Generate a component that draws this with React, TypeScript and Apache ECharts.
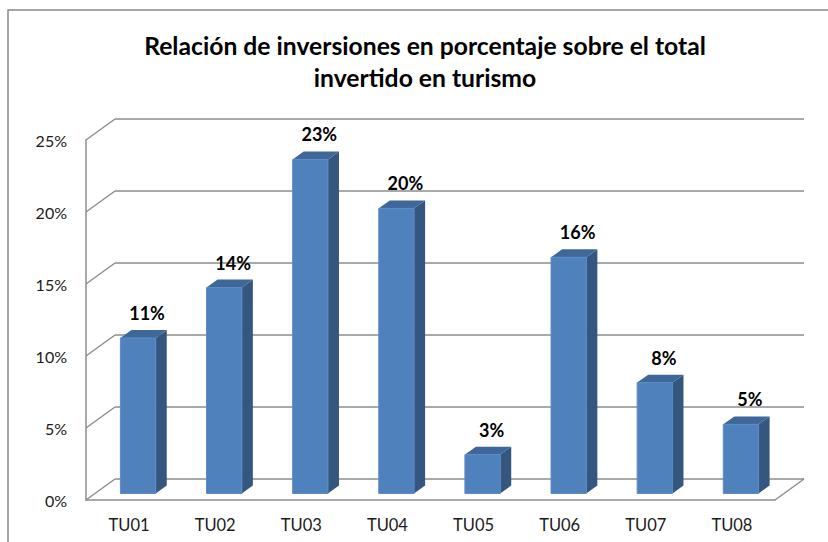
import React, { useEffect, useRef } from "react";
import * as echarts from "echarts";

const categories = ["TU01", "TU02", "TU03", "TU04", "TU05", "TU06", "TU07", "TU08"];
const shares = [10.8, 14.3, 23.2, 19.8, 2.7, 16.4, 7.7, 4.8];
const yTicks = [0, 5, 10, 15, 20, 25];
const titleLines = ["Relación de inversiones en porcentaje sobre el total", "invertido en turismo"];

const FONT = "Lato";
const DEPTH_X = 29;
const DEPTH_Y = -21;
const BAR_F0 = 0.31;
const BAR_F1 = 0.69;
const GRID_COLOR = "#8C8C8C";

export default function App() {
  const ref = useRef<HTMLDivElement>(null);
  useEffect(() => {
    const chart = echarts.init(ref.current!, null, { renderer: "svg" });
    const gridFront = { left: 86, right: 53, top: 140, bottom: 42 };
    const gridBack = {
      left: 86 + DEPTH_X,
      right: 53 - DEPTH_X,
      top: 140 + DEPTH_Y,
      bottom: 42 - DEPTH_Y,
    };
    chart.setOption({
      animation: false,
      backgroundColor: "#fff",
      title: {
        text: titleLines.join("\n"),
        left: 420,
        top: 24,
        textAlign: "center",
        textStyle: {
          fontFamily: FONT,
          fontWeight: "bold",
          fontSize: 24.7,
          lineHeight: 32,
          color: "#000",
        },
      },
      graphic: [
        {
          type: "rect",
          shape: { x: 8, y: 10, width: 840, height: 560 },
          style: { fill: "none", stroke: "#888", lineWidth: 1.5 },
          z: 0,
        },
      ],
      grid: [{ ...gridFront }, { ...gridBack }],
      xAxis: [
        {
          type: "category",
          gridIndex: 0,
          data: categories,
          axisLine: { show: true, lineStyle: { color: GRID_COLOR, width: 1.5 } },
          axisTick: { show: false },
          axisLabel: { fontFamily: FONT, fontSize: 16.5, color: "#1a1a1a", margin: 16 },
          splitLine: { show: false },
        },
        {
          type: "category",
          gridIndex: 1,
          data: categories,
          show: false,
        },
      ],
      yAxis: [
        {
          type: "value",
          gridIndex: 0,
          min: 0,
          max: 25,
          interval: 5,
          axisLine: { show: true, lineStyle: { color: GRID_COLOR, width: 1.5 } },
          axisTick: { show: false },
          splitLine: { show: false },
          axisLabel: {
            fontFamily: FONT,
            fontSize: 16,
            color: "#1a1a1a",
            margin: 19,
            formatter: (v: number) => v + "%",
          },
        },
        {
          type: "value",
          gridIndex: 1,
          min: 0,
          max: 25,
          interval: 5,
          axisLine: { show: false },
          axisTick: { show: false },
          axisLabel: { show: false },
          splitLine: { show: true, lineStyle: { color: GRID_COLOR, width: 1.5 } },
        },
      ],
      series: [
        {
          type: "custom",
          name: "wall",
          xAxisIndex: 0,
          yAxisIndex: 0,
          data: yTicks.map((v) => [0, v]),
          silent: true,
          z: 1,
          renderItem: (params: any, api: any) => {
            const v = api.value(1);
            const cs = params.coordSys;
            const y = api.coord([0, v])[1];
            const children: any[] = [
              {
                type: "line",
                shape: { x1: cs.x, y1: y, x2: cs.x + DEPTH_X, y2: y + DEPTH_Y },
                style: { stroke: GRID_COLOR, lineWidth: 1.5 },
              },
            ];
            if (v === 0) {
              const xr = cs.x + cs.width;
              children.push({
                type: "line",
                shape: { x1: xr, y1: y, x2: xr + DEPTH_X, y2: y + DEPTH_Y },
                style: { stroke: GRID_COLOR, lineWidth: 1.5 },
              });
            }
            return { type: "group", children };
          },
        },
        {
          type: "custom",
          name: "Inversión",
          xAxisIndex: 0,
          yAxisIndex: 0,
          data: shares.map((v, i) => [i, v]),
          z: 5,
          renderItem: (params: any, api: any) => {
            const idx = api.value(0);
            const v = api.value(1);
            const base = api.coord([idx, 0]);
            const top = api.coord([idx, v]);
            const band = api.size([1, 0])[0];
            const w = band * 0.41;
            const ox = DEPTH_X * BAR_F0;
            const oy = DEPTH_Y * BAR_F0;
            const dx = DEPTH_X * (BAR_F1 - BAR_F0);
            const dy = DEPTH_Y * (BAR_F1 - BAR_F0);
            const xl = base[0] + ox - w / 2;
            const xr = xl + w;
            const yb = base[1] + oy;
            const yt = top[1] + oy;
            return {
              type: "group",
              children: [
                {
                  type: "polygon",
                  shape: { points: [[xr, yt], [xr + dx, yt + dy], [xr + dx, yb + dy], [xr, yb]] },
                  style: { fill: "#34567F" },
                },
                {
                  type: "polygon",
                  shape: { points: [[xl, yt], [xl + dx, yt + dy], [xr + dx, yt + dy], [xr, yt]] },
                  style: { fill: "#3F679A" },
                },
                {
                  type: "rect",
                  shape: { x: xl, y: yt, width: w, height: yb - yt },
                  style: { fill: "#4F81BD", stroke: "#5C8CC6", lineWidth: 1 },
                },
                {
                  type: "text",
                  x: (xl + xr) / 2 + 9,
                  y: yt - 25,
                  style: {
                    text: Math.round(v) + "%",
                    fontFamily: FONT,
                    fontWeight: "bold",
                    fontSize: 18,
                    fill: "#000",
                    align: "center",
                    verticalAlign: "middle",
                  },
                },
              ],
            };
          },
        },
      ],
    });
    return () => chart.dispose();
  }, []);
  return (
    <div
      ref={ref}
      style={{ position: "absolute", left: 0, top: 0, width: 828, height: 542 }}
    />
  );
}
